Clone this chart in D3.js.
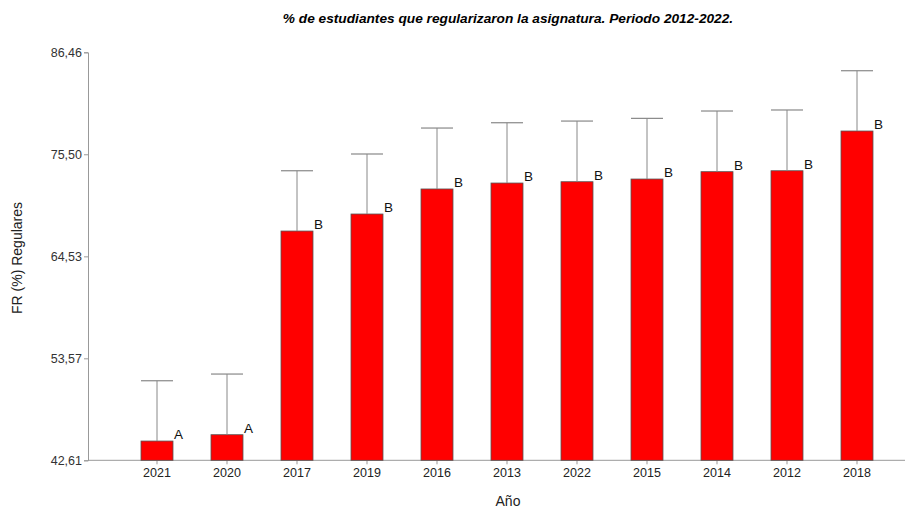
<!DOCTYPE html>
<html><head><meta charset="utf-8">
<script src="https://cdn.jsdelivr.net/npm/d3@7"></script>
<style>body{margin:0;background:#fff;}text{font-family:Arial,"Liberation Sans",sans-serif;}</style>
</head><body>
<svg id="c" width="915" height="509"></svg>
<script>
const years = ["2021","2020","2017","2019","2016","2013","2022","2015","2014","2012","2018"];
const means = [44.68,45.36,67.25,69.08,71.77,72.41,72.55,72.84,73.63,73.73,78.00];
const upper = [51.16,51.88,73.73,75.53,78.32,78.89,79.07,79.36,80.15,80.26,84.48];
const groups = ["A","A","B","B","B","B","B","B","B","B","B"];
const yTicks = [42.61,53.57,64.53,75.50,86.46];
const data = years.map((y,i)=>({year:y,mean:means[i],up:upper[i],g:groups[i]}));

const svg = d3.select("#c");
const y = d3.scaleLinear().domain([42.61,86.46]).range([460.3,52.3]);
const x = d3.scaleBand().domain(years).range([122,892]).paddingInner(0.543).paddingOuter(0.2715);
const axisX0 = 88, axisX1 = 905;
const fmt = d => d.toFixed(2).replace(".",",");

// y axis
const ya = svg.append("g").attr("transform",`translate(${axisX0},0)`)
  .call(d3.axisLeft(y).tickValues(yTicks).tickFormat(fmt).tickSize(4).tickPadding(2));
ya.select(".domain").attr("stroke","#999");
ya.selectAll(".tick line").attr("stroke","#999");
ya.selectAll(".tick text").attr("fill","#333").style("font-size","12.5px");

// x axis
const xa = svg.append("g").attr("transform",`translate(0,${y(42.61)})`)
  .call(d3.axisBottom(x).tickSize(4).tickPadding(4));
xa.select(".domain").remove();
xa.selectAll(".tick line").attr("stroke","#999");
xa.selectAll(".tick text").attr("fill","#222").style("font-size","12.5px");
svg.append("line").attr("x1",axisX0).attr("x2",axisX1).attr("y1",y(42.61)).attr("y2",y(42.61)).attr("stroke","#999");

// bars
const bw = x.bandwidth();
svg.selectAll("rect.bar").data(data).enter().append("rect")
  .attr("x",d=>x(d.year)).attr("y",d=>y(d.mean))
  .attr("width",bw).attr("height",d=>y(42.61)-y(d.mean))
  .attr("fill","#ff0000").attr("stroke","#555").attr("stroke-width",0.8);

// error bars
svg.selectAll("line.err").data(data).enter().append("line")
  .attr("x1",d=>x(d.year)+bw/2).attr("x2",d=>x(d.year)+bw/2)
  .attr("y1",d=>y(d.mean)).attr("y2",d=>y(d.up)).attr("stroke","#888").attr("stroke-width",1);
svg.selectAll("line.cap").data(data).enter().append("line")
  .attr("x1",d=>x(d.year)).attr("x2",d=>x(d.year)+bw)
  .attr("y1",d=>y(d.up)).attr("y2",d=>y(d.up)).attr("stroke","#888").attr("stroke-width",1.2);

// group letters
svg.selectAll("text.grp").data(data).enter().append("text")
  .attr("x",d=>x(d.year)+bw+1).attr("y",d=>y(d.mean)-2)
  .text(d=>d.g).style("font-size","13.5px").attr("fill","#111");

// titles
svg.append("text").attr("x",508).attr("y",23).attr("text-anchor","middle")
  .style("font-size","13.7px").style("font-weight","bold").style("font-style","italic")
  .text("% de estudiantes que regularizaron la asignatura. Periodo 2012-2022.");
svg.append("text").attr("x",508).attr("y",506).attr("text-anchor","middle")
  .style("font-size","14px").attr("fill","#222").text("Año");
svg.append("text").attr("transform","translate(22,258) rotate(-90)").attr("text-anchor","middle")
  .style("font-size","14px").attr("fill","#222").text("FR (%) Regulares");
</script>
</body></html>
